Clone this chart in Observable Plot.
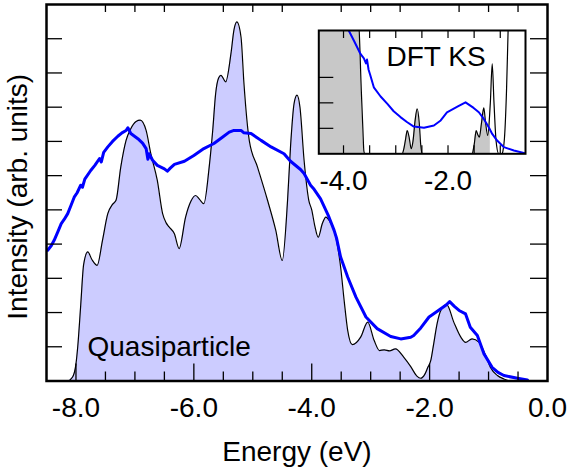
<!DOCTYPE html>
<html>
<head>
<meta charset="utf-8">
<script src="https://cdn.jsdelivr.net/npm/d3@7"></script>
<script src="https://cdn.jsdelivr.net/npm/@observablehq/plot@0.6"></script>
<style>
  html, body { margin: 0; padding: 0; background: white; }
  #chart { position: relative; width: 581px; height: 467px; }
  #chart svg { position: absolute; left: 0; top: 0; }
</style>
</head>
<body>
<div id="chart"></div>
<script>
// ---- Main panel: quasiparticle spectrum (energy eV, intensity arb.) ----
const qpEnergy = [-8.50,-8.15,-8.06,-8.00,-7.97,-7.92,-7.87,-7.80,-7.73,-7.64,-7.55,-7.46,-7.38,-7.32,-7.24,-7.15,-7.07,-6.98,-6.91,-6.81,-6.73,-6.62,-6.53,-6.47,-6.42,-6.33,-6.25,-6.14,-6.05,-5.97,-5.90,-5.83,-5.74,-5.68,-5.63,-5.58,-5.54,-5.46,-5.37,-5.32,-5.27,-5.20,-5.15,-5.06,-4.92,-4.75,-4.61,-4.50,-4.41,-4.36,-4.30,-4.25,-4.20,-4.13,-4.05,-4.00,-3.95,-3.89,-3.82,-3.76,-3.69,-3.62,-3.51,-3.45,-3.39,-3.31,-3.17,-3.05,-2.94,-2.85,-2.77,-2.68,-2.58,-2.44,-2.32,-2.22,-2.15,-2.08,-2.03,-1.98,-1.94,-1.87,-1.81,-1.71,-1.59,-1.47,-1.39,-1.28,-1.16,-1.05,-0.97,-0.85,-0.74,-0.60,0.00];
const qpIntensity = [0,0,0.11,0.5,1.0,2.2,3.4,3.77,3.55,3.38,4.11,4.89,5.16,5.28,6.25,7.03,7.37,7.58,7.62,7.32,6.64,5.86,4.89,4.62,4.50,4.30,3.87,4.79,5.25,5.42,5.30,5.18,6.25,7.32,8.40,8.85,8.93,8.74,9.57,10.25,10.49,10.05,8.69,7.03,6.25,5.28,4.40,3.52,5.28,6.84,8.10,8.35,8.00,6.45,5.28,5.00,4.55,4.20,4.60,4.79,4.65,4.40,3.33,2.35,1.48,1.06,1.28,1.72,1.18,0.89,0.91,0.88,0.94,0.70,0.42,0.15,0.08,0.20,0.40,0.60,0.99,1.70,2.06,2.23,1.72,1.28,1.13,1.23,1.13,0.75,0.40,0.16,0.06,0,0];

// ---- Main panel: blue (experimental) spectrum ----
const exptEnergy = [-8.48,-8.42,-8.37,-8.31,-8.25,-8.20,-8.14,-8.08,-8.03,-7.98,-7.92,-7.89,-7.85,-7.75,-7.68,-7.60,-7.57,-7.53,-7.46,-7.38,-7.29,-7.22,-7.15,-7.12,-7.07,-6.95,-6.87,-6.81,-6.78,-6.76,-6.70,-6.62,-6.56,-6.50,-6.45,-6.40,-6.33,-6.16,-6.00,-5.83,-5.66,-5.51,-5.40,-5.32,-5.20,-5.15,-5.03,-4.86,-4.69,-4.47,-4.36,-4.19,-4.13,-4.02,-3.96,-3.85,-3.71,-3.62,-3.58,-3.51,-3.39,-3.25,-3.08,-2.89,-2.66,-2.49,-2.32,-2.27,-2.15,-2.01,-1.90,-1.81,-1.72,-1.66,-1.58,-1.50,-1.39,-1.31,-1.19,-1.08,-0.94,-0.84,-0.74,-0.51,-0.34];
const exptIntensity = [3.82,3.95,4.11,4.35,4.60,4.72,4.89,5.15,5.37,5.50,5.72,5.66,5.90,6.15,6.30,6.50,6.40,6.68,6.84,7.00,7.15,7.25,7.32,7.40,7.23,7.08,6.95,6.79,6.48,6.64,6.45,6.30,6.25,6.20,6.13,6.22,6.33,6.42,6.59,6.79,6.94,7.13,7.27,7.32,7.32,7.25,7.23,7.03,6.84,6.64,6.42,6.18,6.06,5.72,5.60,5.32,4.80,4.40,4.18,3.62,3.04,2.45,1.87,1.53,1.30,1.23,1.28,1.33,1.55,1.87,2.00,2.11,2.22,2.32,2.18,2.06,1.96,1.57,1.33,0.80,0.40,0.25,0.16,0.08,0.03];

// ---- Inset: DFT Kohn-Sham spectrum ----
const dftEnergy = [-4.47,-3.75,-3.72,-3.70,-3.66,-3.63,-3.61,-3.59,-2.88,-2.84,-2.81,-2.78,-2.74,-2.705,-2.67,-2.63,-2.59,-2.55,-2.52,-2.49,-1.54,-1.50,-1.46,-1.43,-1.40,-1.36,-1.315,-1.28,-1.24,-1.19,-1.154,-1.12,-1.08,-1.03,-0.97,-0.95,-0.92,-0.88,-0.85,-0.82];
const dftIntensity = [6,6,5.5,4.84,2.5,1.0,0.1,0,0,0.25,0.6,0.91,0.6,0.2,0.5,1.3,1.76,1.2,0.3,0,0,0.35,0.91,0.75,0.65,1.2,1.8,1.2,0.72,2.0,3.53,2.0,0.5,0,0,0.1,0.6,2.5,4.84,7];
const dftFillLimit = -1.19;

// ---- Inset: blue (experimental) spectrum ----
const insetExptEnergy = [-3.90,-3.80,-3.675,-3.61,-3.57,-3.55,-3.52,-3.49,-3.42,-3.29,-3.16,-3.04,-2.91,-2.78,-2.655,-2.46,-2.27,-2.14,-2.02,-1.82,-1.665,-1.51,-1.41,-1.315,-1.22,-1.154,-1.06,-0.93,-0.74,-0.52];
const insetExptIntensity = [4.84,4.44,3.92,3.75,3.55,3.70,3.30,3.10,2.61,2.25,1.96,1.67,1.44,1.24,1.07,1.02,1.11,1.31,1.63,1.85,2.02,1.80,1.63,1.37,1.04,0.78,0.52,0.26,0.13,0.02];

// ---- Tick values ----
const xLabelTicks = [-8, -6, -4, -2, 0];
const xMajorTicks = [-8, -6, -4, -2];
const xMinorTicks = [-7.5, -7, -6.5, -5.5, -5, -4.5, -3.5, -3, -2.5, -1.5, -1, -0.5];
const yTicks = [1, 2, 3, 4, 5, 6, 7, 8, 9, 10];
const insetXLabelTicks = [-4, -2];
const insetXTicks = [-4, -3.5, -3, -2.5, -2, -1.5, -1];
const insetYTicks = [1, 2, 3];

const rows = (E, I) => E.map((e, i) => ({e, v: I[i]}));
const qp = rows(qpEnergy, qpIntensity);
const expt = rows(exptEnergy, exptIntensity);
const dft = rows(dftEnergy, dftIntensity);
const dftFill = dft.filter(d => d.e <= dftFillLimit);
const insetExpt = rows(insetExptEnergy, insetExptIntensity);

const FONT = "'Liberation Sans', Arial, Helvetica, sans-serif";
const W = 581, H = 467;
const mL = 46, mR = 34, mT = 4, mB = 86.5;
const pw = W - mL - mR, ph = H - mT - mB;

const main = Plot.plot({
  width: W, height: H,
  marginLeft: mL, marginRight: mR, marginTop: mT, marginBottom: mB,
  x: {domain: [-8.5, 0], axis: null, label: null},
  y: {domain: [0, 11], axis: null, label: null},
  style: {fontFamily: FONT, fontSize: "28px", background: "white", color: "black"},
  marks: [
    Plot.areaY(qp, {x: "e", y: "v", fill: "#ccccff", curve: "monotone-x", clip: true}),
    Plot.lineY(qp, {x: "e", y: "v", stroke: "black", strokeWidth: 1.2, curve: "monotone-x", clip: true}),
    Plot.lineY(expt, {x: "e", y: "v", stroke: "#0000ff", strokeWidth: 3, clip: true}),
    Plot.ruleX(xMajorTicks, {stroke: "black", strokeWidth: 1.3, insetTop: ph - 17}),
    Plot.ruleX(xMinorTicks, {stroke: "black", strokeWidth: 1.3, insetTop: ph - 9}),
    Plot.ruleX(xMinorTicks, {stroke: "black", strokeWidth: 1.3, insetBottom: ph - 8}),
    Plot.ruleY(yTicks, {stroke: "black", strokeWidth: 1.3, insetRight: pw - 16}),
    Plot.ruleY(yTicks, {stroke: "black", strokeWidth: 1.3, insetLeft: pw - 17}),
    Plot.frame({stroke: "black", strokeWidth: 2.5}),
    Plot.axisX({ticks: xLabelTicks, tickSize: 0, tickPadding: 16, tickFormat: d => d.toFixed(1), fontSize: 28, label: null}),
    Plot.text(["Energy (eV)"], {text: d => d, frameAnchor: "bottom", dy: 79.5, lineAnchor: "bottom", fontSize: 28}),
    Plot.text(["Intensity (arb. units)"], {text: d => d, frameAnchor: "left", rotate: -90, dx: -20, dy: 4, lineAnchor: "bottom", textAnchor: "middle", fontSize: 28}),
    Plot.text(["Quasiparticle"], {text: d => d, frameAnchor: "bottom-left", dx: 41, dy: -25.5, lineAnchor: "bottom", textAnchor: "start", fontSize: 28})
  ]
});

const iL = 318.3, iR = 525, iT = 30, iB = 153.3;
const ipw = iR - iL, iph = iB - iT;
const inset = Plot.plot({
  width: W, height: H,
  marginLeft: iL, marginRight: W - iR, marginTop: iT, marginBottom: H - iB,
  x: {domain: [-4.473, -0.517], axis: null, label: null},
  y: {domain: [0, 4.84], axis: null, label: null},
  style: {fontFamily: FONT, fontSize: "28px", background: "transparent", color: "black"},
  marks: [
    Plot.frame({fill: "white", stroke: "none"}),
    Plot.areaY(dftFill, {x: "e", y: "v", fill: "#c8c8c8", curve: "monotone-x", clip: true}),
    Plot.lineY(dft, {x: "e", y: "v", stroke: "black", strokeWidth: 1.2, curve: "monotone-x", clip: true}),
    Plot.lineY(insetExpt, {x: "e", y: "v", stroke: "#0000ff", strokeWidth: 2, clip: true}),
    Plot.ruleX(insetXTicks, {stroke: "black", strokeWidth: 1.2, insetTop: iph - 8}),
    Plot.ruleX(insetXTicks, {stroke: "black", strokeWidth: 1.2, insetBottom: iph - 8}),
    Plot.ruleY(insetYTicks, {stroke: "black", strokeWidth: 1.2, insetRight: ipw - 15}),
    Plot.frame({stroke: "black", strokeWidth: 2}),
    Plot.axisX({ticks: insetXLabelTicks, tickSize: 0, tickPadding: 16.8, tickFormat: d => d.toFixed(1), fontSize: 28, label: null}),
    Plot.text(["DFT KS"], {text: d => d, frameAnchor: "top-left", dx: 67.7, dy: 35, lineAnchor: "bottom", textAnchor: "start", fontSize: 28})
  ]
});

const chart = document.getElementById("chart");
chart.appendChild(main);
chart.appendChild(inset);
</script>
</body>
</html>
